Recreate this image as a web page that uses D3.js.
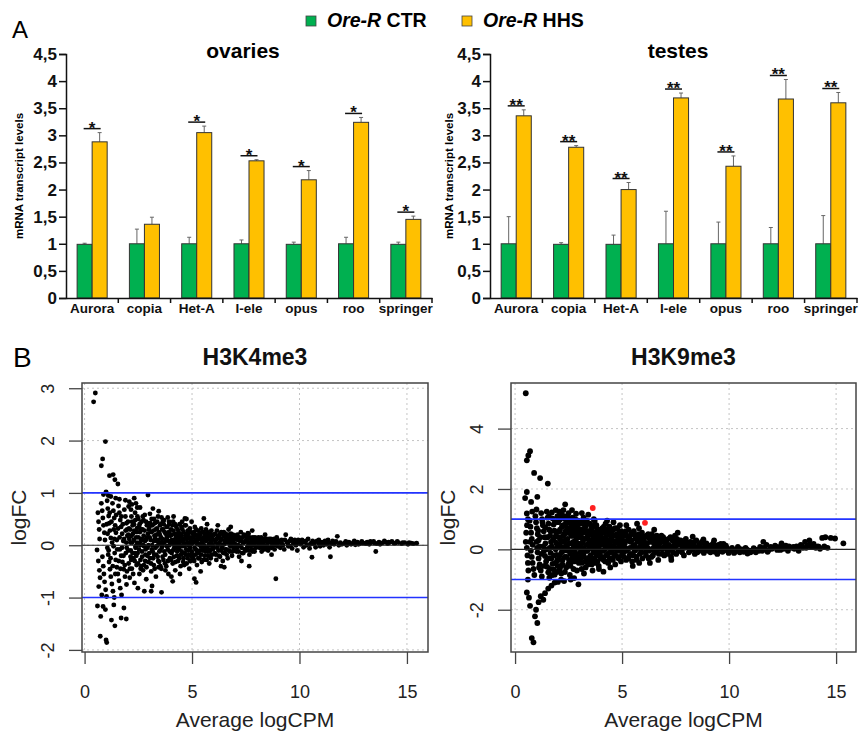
<!DOCTYPE html>
<html>
<head>
<meta charset="utf-8">
<script src="https://cdn.jsdelivr.net/npm/d3@7"></script>
<style>
  body { margin: 0; background: #fff; }
  svg { font-family: "Liberation Sans", Arial, sans-serif; }
</style>
</head>
<body>
<svg width="862" height="732"></svg>
<script>
// ---- panel A data ----
const genes = ['Aurora', 'copia', 'Het-A', 'I-ele', 'opus', 'roo', 'springer'];
const barTicks = [0, 0.5, 1, 1.5, 2, 2.5, 3, 3.5, 4, 4.5];

const ovCtr    = [0.99, 1.00, 1.00, 1.00, 0.99, 1.00, 0.99];
const ovCtrErr = [0.02, 0.27, 0.12, 0.07, 0.04, 0.12, 0.04];
const ovHhs    = [2.88, 1.36, 3.05, 2.53, 2.18, 3.24, 1.45];
const ovHhsErr = [0.17, 0.13, 0.12, 0.02, 0.17, 0.09, 0.06];
const ovSig    = ['*', '', '*', '*', '*', '*', '*'];

const teCtr    = [1.00, 0.99, 0.99, 1.00, 1.00, 1.00, 1.00];
const teCtrErr = [0.50, 0.03, 0.17, 0.60, 0.40, 0.30, 0.52];
const teHhs    = [3.36, 2.78, 2.00, 3.69, 2.43, 3.67, 3.60];
const teHhsErr = [0.11, 0.03, 0.13, 0.09, 0.19, 0.36, 0.19];
const teSig    = ['**', '**', '**', '**', '**', '**', '**'];

// ---- panel B data: [average logCPM, logFC] ----
const k4Points = [
  [0.42,2.74],[0.50,2.91],[0.97,1.98],[0.84,1.65],[0.78,1.52],[1.16,1.33],[1.33,1.35],[1.41,1.25],[1.55,1.17],[2.95,0.96],
  [1.00,1.02],[0.88,0.97],[1.10,0.95],[1.22,0.93],[1.45,0.90],[1.62,0.88],[1.90,0.86],[2.20,0.78],[2.45,0.72],[2.05,0.74],
  [2.31,0.90],[2.08,0.83],[2.39,0.80],
  [0.58,-0.09],[0.66,-0.79],[0.60,-1.16],[0.75,-1.36],[0.73,-1.74],[1.00,-1.81],[1.03,-1.86],[1.25,-1.43],[1.41,-1.54],[1.70,-1.39],
  [1.94,-1.41],[1.83,-1.20],[1.36,-1.14],[0.97,-1.23],[0.86,-1.17],
  [0.62,0.62],[0.65,0.45],[0.68,0.30],[0.70,0.12],[0.64,-0.30],[0.69,-0.48],[0.72,-0.62],[0.80,-0.95],[0.78,0.80],[0.82,0.66],
  [0.85,0.52],[0.88,0.38],[0.92,0.24],[0.95,0.10],[0.83,-0.22],[0.87,-0.40],[0.90,-0.55],[0.93,-0.70],[0.98,-0.85],[1.02,-0.98],
  [1.05,0.85],[1.08,0.70],[1.12,0.56],[1.15,0.42],[1.18,0.28],[1.22,0.14],[1.06,-0.05],[1.10,-0.18],[1.14,-0.32],[1.18,-0.46],
  [1.22,-0.60],[1.27,-0.74],[1.32,-0.88],[1.38,-1.00],
  [1.30,0.80],[1.34,0.66],[1.38,0.52],[1.42,0.38],[1.46,0.24],[1.50,0.10],[1.35,-0.02],[1.40,-0.15],[1.45,-0.28],[1.50,-0.42],
  [1.55,-0.55],[1.60,-0.68],[1.66,-0.82],[1.72,-0.95],
  [1.58,0.75],[1.62,0.62],[1.66,0.48],[1.70,0.35],[1.75,0.22],[1.80,0.08],[1.64,-0.08],[1.70,-0.20],[1.76,-0.32],[1.82,-0.46],
  [1.88,-0.60],[1.95,-0.75],[1.85,0.68],[1.90,0.55],[1.95,0.42],[1.98,0.30],[1.92,-0.15],[1.96,-0.05],[1.99,0.18],
  [2.02,0.45],[2.05,-0.35],[2.08,0.12],[2.10,-0.62],[2.12,0.30],[2.15,-0.10],[2.18,0.55],[2.20,-0.45],[2.22,0.05],[2.25,0.22],
  [2.27,-0.25],[2.30,0.40],[2.32,-0.72],[2.35,0.62],[2.37,-0.05],[2.40,0.15],[2.42,-0.38],[2.45,0.33],[2.47,-0.15],[2.50,0.50],
  [2.52,0.02],[2.55,-0.55],[2.57,0.25],[2.60,-0.28],[2.62,0.08],[2.65,0.45],[2.67,-0.12],[2.70,0.30],[2.72,-0.48],[2.75,0.18],
  [2.77,-0.02],[2.80,0.58],[2.82,-0.30],[2.85,0.10],[2.87,-0.65],[2.90,0.38],[2.92,-0.20],[2.95,0.22],[2.97,0.00],
  [2.04,0.20],[2.14,-0.22],[2.24,0.38],[2.34,-0.15],[2.44,0.05],[2.54,0.35],[2.64,-0.40],[2.74,0.48],[2.84,-0.08],[2.94,0.42],
  [2.16,0.68],[2.48,-0.82],[2.78,-0.88],[2.58,0.72],
  [3.02,0.35],[3.05,-0.25],[3.07,0.10],[3.10,-0.50],[3.12,0.50],[3.15,0.00],[3.17,-0.12],[3.20,0.28],[3.22,-0.38],[3.25,0.18],
  [3.27,0.42],[3.30,-0.05],[3.32,-0.60],[3.35,0.08],[3.37,0.32],[3.40,-0.22],[3.42,0.55],[3.45,0.02],[3.47,-0.32],[3.50,0.20],
  [3.52,-0.10],[3.55,0.40],[3.57,-0.45],[3.60,0.12],[3.62,-0.02],[3.65,0.30],[3.67,-0.28],[3.70,0.48],[3.72,0.05],[3.75,-0.18],
  [3.77,0.22],[3.80,-0.40],[3.82,0.15],[3.85,0.35],[3.87,-0.08],[3.90,-0.55],[3.92,0.25],[3.95,0.00],[3.97,-0.25],
  [3.04,0.60],[3.14,-0.78],[3.24,-0.18],[3.34,0.20],[3.44,-0.42],[3.54,0.05],[3.64,0.45],[3.74,-0.35],[3.84,0.10],[3.94,0.40],
  [3.10,-0.88],[3.58,-0.90],[3.45,0.65],[3.18,0.70],[3.87,0.53],[3.58,0.53],
  [4.02,0.30],[4.05,-0.15],[4.07,0.10],[4.10,-0.35],[4.12,0.45],[4.15,0.02],[4.17,-0.05],[4.20,0.22],[4.22,-0.48],[4.25,0.15],
  [4.27,0.35],[4.30,-0.20],[4.32,0.05],[4.35,-0.30],[4.37,0.25],[4.40,-0.08],[4.42,0.40],[4.45,0.00],[4.47,-0.40],[4.50,0.18],
  [4.52,-0.12],[4.55,0.30],[4.57,0.08],[4.60,-0.25],[4.62,0.12],[4.65,-0.02],[4.67,0.38],[4.70,-0.18],[4.72,0.20],[4.75,-0.35],
  [4.77,0.05],[4.80,0.28],[4.82,-0.10],[4.85,0.15],[4.87,-0.45],[4.90,0.32],[4.92,-0.05],[4.95,0.10],[4.97,-0.22],
  [4.04,-0.60],[4.14,0.55],[4.24,-0.05],[4.34,0.12],[4.44,-0.55],[4.54,0.45],[4.64,-0.38],[4.74,0.50],[4.84,0.00],[4.94,-0.30],
  [4.10,-0.69],[4.67,0.51],[4.98,0.45],
  [5.02,0.22],[5.05,-0.18],[5.08,0.05],[5.10,-0.30],[5.13,0.35],[5.15,0.10],[5.18,-0.08],[5.20,0.18],[5.23,-0.38],[5.25,0.02],
  [5.28,0.28],[5.30,-0.15],[5.33,0.12],[5.35,-0.25],[5.38,0.20],[5.40,-0.02],[5.43,0.32],[5.45,-0.32],[5.48,0.08],[5.50,-0.10],
  [5.53,0.25],[5.55,0.00],[5.58,-0.20],[5.60,0.15],[5.63,-0.05],[5.65,0.30],[5.68,-0.28],[5.70,0.10],[5.73,-0.12],[5.75,0.22],
  [5.78,0.02],[5.80,-0.35],[5.83,0.18],[5.85,-0.08],[5.88,0.05],[5.90,0.28],[5.93,-0.18],[5.95,0.12],[5.98,-0.02],
  [5.11,-0.64],[5.19,-0.71],[5.55,0.51],[5.40,-0.50],[5.70,0.40],
  [6.03,0.20],[6.06,-0.15],[6.10,0.05],[6.13,-0.28],[6.16,0.28],[6.20,0.00],[6.23,-0.10],[6.26,0.15],[6.30,-0.22],[6.33,0.10],
  [6.36,0.25],[6.40,-0.05],[6.43,-0.30],[6.46,0.18],[6.50,0.02],[6.53,-0.15],[6.56,0.22],[6.60,-0.08],[6.63,0.12],[6.66,-0.25],
  [6.70,0.30],[6.73,0.05],[6.76,-0.12],[6.80,0.15],[6.83,-0.02],[6.86,-0.20],[6.90,0.20],[6.93,0.08],[6.96,-0.10],
  [6.20,0.38],[6.50,-0.42],[6.80,0.35],[6.35,-0.40],
  [7.03,0.12],[7.07,-0.12],[7.11,0.20],[7.15,0.00],[7.19,-0.22],[7.23,0.08],[7.27,0.25],[7.31,-0.05],[7.35,0.15],[7.39,-0.15],
  [7.43,0.05],[7.47,0.18],[7.51,-0.10],[7.55,0.10],[7.59,-0.02],[7.63,0.22],[7.67,-0.18],[7.71,0.05],[7.75,0.12],[7.79,-0.08],
  [7.83,0.15],[7.87,0.00],[7.91,-0.12],[7.95,0.08],[7.66,-0.40],[7.60,0.23],[7.30,-0.30],[7.80,0.28],
  [8.04,0.05],[8.09,0.15],[8.14,-0.05],[8.19,0.10],[8.24,-0.12],[8.29,0.02],[8.34,0.12],[8.39,-0.08],[8.44,0.08],[8.49,0.00],
  [8.54,-0.10],[8.59,0.12],[8.64,0.05],[8.69,-0.05],[8.74,0.10],[8.79,0.02],[8.84,-0.08],[8.89,0.08],[8.94,0.15],[8.99,-0.02],
  [8.90,-0.64],[8.40,0.20],[8.70,-0.18],
  [9.05,0.05],[9.11,-0.05],[9.17,0.10],[9.23,0.00],[9.29,-0.08],[9.36,0.20],[9.42,0.06],[9.48,-0.02],[9.54,0.08],[9.60,0.12],
  [9.66,-0.06],[9.72,0.04],[9.78,0.10],[9.84,0.00],[9.90,-0.10],[9.96,0.06],
  [10.05,0.02],[10.12,0.10],[10.19,-0.04],[10.26,0.06],[10.33,0.00],[10.40,0.12],[10.47,-0.06],[10.54,0.04],[10.58,-0.23],[10.61,0.08],
  [10.68,0.02],[10.75,-0.04],[10.82,0.08],[10.89,0.04],[10.96,-0.02],
  [11.05,0.06],[11.12,0.00],[11.19,0.08],[11.26,0.02],[11.33,0.10],[11.40,-0.04],[11.44,-0.22],[11.47,0.04],[11.54,0.08],[11.61,0.02],
  [11.68,0.06],[11.76,0.17],[11.83,0.00],[11.90,0.05],[11.97,0.02],
  [12.10,0.04],[12.20,0.00],[12.30,0.06],[12.40,0.02],[12.50,0.05],[12.60,0.01],[12.70,0.06],[12.80,0.03],[12.90,0.07],
  [13.05,0.04],[13.15,0.06],[13.25,0.02],[13.35,0.05],[13.45,0.07],[13.55,-0.12],[13.60,0.03],[13.70,0.06],[13.80,0.04],[13.90,0.05],
  [14.00,0.06],[14.10,0.03],[14.20,0.05],[14.30,0.07],[14.45,0.04],[14.60,0.05],[14.75,0.03],[14.90,0.05],[15.05,0.02],[15.20,0.04],[15.45,0.04]
];
// the dense core of the H3K4me3 cloud
const k4Core = [
  [1.03,0.40],[1.07,0.22],[1.12,-0.10],[1.17,0.62],[1.21,-0.25],[1.25,0.45],[1.28,0.05],[1.31,-0.40],[1.36,0.30],[1.39,0.12],
  [1.43,-0.55],[1.47,0.58],[1.52,-0.08],[1.56,0.32],[1.59,-0.30],[1.63,0.15],[1.67,-0.45],[1.71,0.55],[1.74,-0.05],[1.78,0.40],
  [1.81,-0.20],[1.84,0.12],[1.87,-0.38],[1.91,0.28],[1.94,0.05],[1.97,-0.50],
  [2.03,-0.10],[2.07,0.32],[2.11,-0.45],[2.13,0.05],[2.17,-0.28],[2.19,0.18],[2.21,0.45],[2.23,-0.15],[2.26,-0.55],[2.29,0.10],
  [2.31,0.28],[2.33,-0.30],[2.36,0.48],[2.38,-0.02],[2.41,-0.20],[2.43,0.25],[2.46,0.55],[2.49,-0.35],[2.51,0.15],[2.53,-0.08],
  [2.56,0.40],[2.59,0.00],[2.61,-0.45],[2.63,0.30],[2.66,0.12],[2.68,-0.22],[2.71,0.55],[2.73,0.00],[2.76,-0.38],[2.79,0.28],
  [2.81,0.08],[2.83,-0.18],[2.86,0.45],[2.88,-0.42],[2.91,0.15],[2.93,-0.05],[2.96,-0.32],[2.99,0.30],
  [3.01,-0.15],[3.03,0.15],[3.06,0.42],[3.09,-0.35],[3.11,0.25],[3.13,-0.08],[3.16,0.38],[3.19,-0.25],[3.21,0.08],[3.23,0.50],
  [3.26,-0.45],[3.28,0.12],[3.31,0.30],[3.33,-0.18],[3.36,-0.02],[3.38,0.45],[3.41,0.10],[3.43,-0.30],[3.46,0.25],[3.48,-0.12],
  [3.51,0.38],[3.53,-0.40],[3.56,0.15],[3.59,-0.05],[3.61,0.30],[3.63,-0.22],[3.66,0.05],[3.68,0.40],[3.71,-0.12],[3.73,0.25],
  [3.76,-0.48],[3.78,0.10],[3.81,0.35],[3.83,-0.02],[3.86,0.20],[3.88,-0.30],[3.91,0.08],[3.93,0.45],[3.96,-0.12],[3.99,0.18],
  [4.01,0.05],[4.03,-0.28],[4.06,0.20],[4.09,0.38],[4.11,-0.10],[4.13,0.28],[4.16,-0.22],[4.19,0.10],[4.21,0.40],[4.23,-0.32],
  [4.26,0.02],[4.28,0.18],[4.31,-0.12],[4.33,0.30],[4.36,-0.05],[4.39,0.15],[4.41,-0.25],[4.43,0.22],[4.46,0.08],[4.49,-0.18],
  [4.51,0.35],[4.53,-0.02],[4.56,0.12],[4.59,-0.32],[4.61,0.25],[4.63,0.02],[4.66,-0.15],[4.69,0.18],[4.71,0.38],[4.73,-0.08],
  [4.76,0.12],[4.79,-0.25],[4.81,0.22],[4.83,0.05],[4.86,-0.18],[4.89,0.15],[4.91,-0.30],[4.93,0.25],[4.96,0.02],[4.99,-0.12],
  [5.01,0.05],[5.04,0.15],[5.06,-0.25],[5.09,0.25],[5.12,-0.05],[5.14,0.20],[5.17,-0.18],[5.19,0.30],[5.22,0.08],[5.24,-0.12],
  [5.27,0.15],[5.29,-0.25],[5.32,0.02],[5.34,0.22],[5.37,-0.10],[5.39,0.12],[5.42,-0.18],[5.44,0.05],[5.47,0.25],[5.49,-0.05],
  [5.52,0.15],[5.54,-0.28],[5.57,0.10],[5.59,0.22],[5.62,-0.12],[5.64,0.08],[5.67,0.18],[5.69,-0.05],[5.72,0.25],[5.74,-0.20],
  [5.77,0.12],[5.79,0.00],[5.82,-0.12],[5.84,0.22],[5.87,-0.25],[5.89,0.10],[5.92,0.02],[5.94,0.20],[5.97,-0.08],
  [6.01,-0.05],[6.05,0.10],[6.08,0.22],[6.11,-0.18],[6.15,0.12],[6.18,-0.05],[6.21,0.18],[6.25,-0.20],[6.28,0.05],[6.31,0.22],
  [6.35,-0.10],[6.38,0.12],[6.41,0.00],[6.45,-0.15],[6.48,0.25],[6.51,0.08],[6.55,-0.08],[6.58,0.15],[6.61,-0.18],[6.65,0.05],
  [6.68,0.20],[6.71,-0.10],[6.75,0.10],[6.78,-0.02],[6.81,0.22],[6.85,0.05],[6.88,-0.12],[6.91,0.12],[6.95,-0.05],[6.98,0.18],
  [7.01,0.02],[7.05,0.18],[7.09,-0.05],[7.13,0.10],[7.17,-0.12],[7.21,0.15],[7.25,-0.02],[7.29,0.10],[7.33,-0.15],[7.37,0.05],
  [7.41,0.20],[7.45,-0.08],[7.49,0.08],[7.53,0.15],[7.57,-0.05],[7.61,0.05],[7.65,-0.10],[7.69,0.15],[7.73,-0.02],[7.77,0.08],
  [7.81,-0.12],[7.85,0.10],[7.89,0.02],[7.93,0.15],[7.97,-0.05],
  [8.02,0.10],[8.07,-0.02],[8.12,0.08],[8.17,0.02],[8.22,0.15],[8.27,-0.05],[8.32,0.05],[8.37,0.10],[8.42,-0.02],[8.47,0.12],
  [8.52,0.05],[8.57,-0.05],[8.62,0.08],[8.67,0.12],[8.72,-0.02],[8.77,0.06],[8.82,0.12],[8.87,0.00],[8.92,0.05],[8.97,0.10],
  [9.08,0.08],[9.20,0.02],[9.32,0.10],[9.45,0.04],[9.57,-0.02],[9.70,0.08],[9.82,0.05],[9.94,0.10],
  [10.10,0.04],[10.30,0.08],[10.50,0.02],[10.70,0.06],[10.90,0.10],[11.10,0.02],[11.30,0.05],[11.50,0.03],[11.70,0.07],[11.90,0.03],
  [12.15,0.07],[12.35,0.03],[12.55,0.08],[12.75,0.02],[12.95,0.04],[13.10,0.03],[13.30,0.07],[13.50,0.04],[13.75,0.02],[13.95,0.08],
  [14.15,0.06],[14.40,0.04],[14.55,0.07],[14.80,0.05],[15.10,0.05],[15.30,0.03]
];

const k9Points = [
  [0.50,5.17],[0.70,3.25],[0.62,3.11],[0.55,2.95],[0.89,2.53],[1.17,2.36],[1.53,2.18],[0.55,1.90],[0.47,1.70],[0.75,1.57],
  [1.04,1.74],[2.34,1.49],[0.55,1.19],[0.80,1.25],[1.00,1.32],
  [2.96,-1.16],[0.70,-1.87],[0.55,-1.43],[0.98,-2.00],[0.93,-2.22],[1.04,-2.44],[0.78,-2.94],[0.86,-3.08],[2.29,-1.05],[4.13,-0.74],
  [1.32,-1.67],[1.40,-1.45],[1.55,-1.30],[1.70,-1.20],[1.85,-1.10],[1.20,-1.55],[1.10,-1.75],[0.65,-1.60],[0.60,-1.00],[2.00,-1.08],
  [2.15,-1.00],[2.60,-1.00],
  [0.50,0.25],[0.55,0.05],[0.58,-0.20],[0.60,-0.45],[0.62,-0.70],[0.52,0.55],[0.56,0.80],[0.60,1.00],
  [0.68,0.95],[0.72,0.75],[0.75,0.55],[0.78,0.35],[0.82,0.15],[0.70,0.25],[0.74,-0.05],[0.78,-0.25],[0.82,-0.45],[0.86,-0.65],[0.90,-0.85],
  [0.95,1.10],[0.98,0.90],[1.02,0.70],[1.06,0.50],[1.10,0.30],[1.00,0.25],[1.14,0.10],[1.05,-0.10],[1.10,-0.30],[1.15,-0.50],
  [1.20,-0.70],[1.25,-0.90],
  [1.22,1.20],[1.26,1.00],[1.30,0.80],[1.34,0.60],[1.38,0.40],[1.42,0.20],[1.35,-0.05],[1.40,-0.22],[1.45,-0.40],[1.50,-0.58],
  [1.55,-0.76],[1.60,-0.94],
  [1.48,1.25],[1.52,1.05],[1.56,0.85],[1.60,0.65],[1.64,0.45],[1.68,0.25],[1.62,0.05],[1.66,-0.12],[1.70,-0.30],[1.75,-0.48],
  [1.80,-0.66],[1.85,-0.84],
  [1.72,1.22],[1.76,1.02],[1.80,0.82],[1.84,0.62],[1.88,0.42],[1.92,0.22],[1.90,0.00],[1.94,-0.18],[1.97,-0.36],[1.99,-0.55],
  [1.95,-0.75],[1.90,1.30],[1.98,1.10],
  [2.02,0.90],[2.05,0.40],[2.08,-0.20],[2.10,0.65],[2.12,0.10],[2.15,-0.55],[2.18,1.15],[2.20,0.25],[2.22,-0.35],[2.25,0.80],
  [2.28,-0.05],[2.30,0.50],[2.33,-0.75],[2.35,1.00],[2.38,0.15],[2.40,-0.25],[2.43,0.70],[2.45,0.35],[2.48,-0.50],[2.50,1.20],
  [2.53,0.00],[2.55,0.55],[2.58,-0.15],[2.60,0.85],[2.63,0.20],[2.65,-0.40],[2.68,1.05],[2.70,0.45],[2.73,-0.65],[2.75,0.10],
  [2.78,0.75],[2.80,-0.10],[2.83,0.30],[2.85,1.18],[2.88,-0.30],[2.90,0.60],[2.93,0.05],[2.95,0.95],[2.98,-0.45],
  [2.06,1.25],[2.26,1.30],[2.46,1.10],[2.66,1.30],[2.86,0.90],[2.16,-0.80],[2.56,-0.85],[2.76,-0.95],[2.36,0.60],[2.96,0.40],
  [3.02,0.50],[3.05,-0.10],[3.08,0.85],[3.10,0.20],[3.13,-0.45],[3.15,0.65],[3.18,0.05],[3.20,1.05],[3.23,-0.25],[3.25,0.35],
  [3.28,0.75],[3.30,-0.60],[3.33,0.15],[3.35,0.95],[3.38,-0.05],[3.40,0.45],[3.43,-0.35],[3.45,0.60],[3.48,0.10],[3.50,0.85],
  [3.53,-0.20],[3.55,0.30],[3.58,-0.50],[3.60,0.70],[3.63,0.00],[3.65,0.40],[3.68,1.00],[3.70,-0.30],[3.73,0.20],[3.75,0.55],
  [3.78,-0.10],[3.80,0.80],[3.83,0.25],[3.85,-0.40],[3.88,0.45],[3.90,0.05],[3.93,0.65],[3.95,-0.15],[3.98,0.30],
  [3.12,1.20],[3.42,1.15],[3.72,0.95],[3.22,-0.80],[3.62,-0.70],[3.92,-0.65],
  [4.02,0.40],[4.05,-0.05],[4.08,0.70],[4.11,0.15],[4.14,-0.35],[4.17,0.55],[4.20,0.00],[4.23,0.85],[4.26,-0.20],[4.29,0.30],
  [4.32,0.60],[4.35,-0.45],[4.38,0.10],[4.41,0.75],[4.44,-0.10],[4.47,0.35],[4.50,-0.30],[4.53,0.50],[4.56,0.05],[4.59,0.65],
  [4.62,-0.15],[4.65,0.25],[4.68,-0.50],[4.71,0.45],[4.74,0.00],[4.77,0.70],[4.80,-0.25],[4.83,0.20],[4.86,0.55],[4.89,-0.05],
  [4.92,0.35],[4.95,-0.40],[4.98,0.15],[4.30,0.95],[4.60,0.90],[4.90,0.80],[4.45,-0.60],
  [5.03,0.30],[5.07,-0.10],[5.11,0.55],[5.15,0.05],[5.19,-0.35],[5.23,0.45],[5.27,0.00],[5.31,0.65],[5.35,-0.20],[5.39,0.25],
  [5.43,0.50],[5.47,-0.40],[5.51,0.10],[5.55,0.60],[5.59,-0.05],[5.63,0.35],[5.67,-0.25],[5.71,0.45],[5.75,0.05],[5.79,0.70],
  [5.83,-0.15],[5.87,0.20],[5.91,0.40],[5.95,-0.30],[5.99,0.10],[5.20,0.80],[5.50,-0.55],[5.80,-0.45],[5.70,0.85],
  [6.04,0.25],[6.09,-0.10],[6.14,0.45],[6.19,0.05],[6.24,-0.30],[6.29,0.35],[6.34,0.00],[6.39,0.50],[6.44,-0.20],[6.49,0.20],
  [6.54,0.40],[6.59,-0.05],[6.64,0.15],[6.69,-0.35],[6.74,0.30],[6.79,0.05],[6.84,0.45],[6.89,-0.15],[6.94,0.25],[6.99,0.10],
  [6.50,0.65],[6.30,-0.45],
  [7.05,0.20],[7.11,-0.05],[7.17,0.35],[7.23,0.00],[7.29,-0.25],[7.35,0.30],[7.41,0.10],[7.47,0.45],[7.53,-0.15],[7.59,0.15],
  [7.65,0.30],[7.71,-0.05],[7.77,0.20],[7.83,0.05],[7.89,-0.20],[7.95,0.25],[7.60,0.55],[7.30,-0.35],
  [8.05,0.10],[8.12,-0.10],[8.19,0.25],[8.26,0.00],[8.33,0.15],[8.40,-0.15],[8.47,0.30],[8.54,0.05],[8.61,-0.05],[8.68,0.20],
  [8.75,0.00],[8.82,-0.12],[8.89,0.15],[8.96,0.05],[8.30,0.42],[8.80,0.33],
  [9.05,0.05],[9.13,-0.10],[9.21,0.15],[9.29,-0.02],[9.37,0.10],[9.45,-0.15],[9.53,0.05],[9.61,0.18],[9.69,-0.08],[9.77,0.02],
  [9.85,0.12],[9.93,-0.05],[9.30,0.30],
  [10.05,-0.05],[10.14,0.05],[10.23,-0.12],[10.32,-0.02],[10.41,0.08],[10.50,-0.10],[10.59,0.00],[10.68,-0.08],[10.77,0.05],[10.86,-0.14],
  [10.95,-0.04],
  [11.05,-0.06],[11.15,0.04],[11.25,-0.10],[11.35,-0.02],[11.45,0.08],[11.55,-0.05],[11.65,0.02],[11.75,0.15],[11.85,-0.02],[11.95,0.08],
  [11.60,0.25],
  [12.05,0.05],[12.15,0.12],[12.25,-0.02],[12.35,0.08],[12.45,0.20],[12.55,0.02],[12.65,0.12],[12.75,-0.05],[12.90,0.05],
  [13.05,0.02],[13.15,0.10],[13.25,-0.05],[13.35,0.15],[13.45,0.05],[13.55,0.25],[13.65,0.12],[13.75,0.30],[13.85,0.08],[13.95,0.18],
  [14.05,0.05],[14.15,0.10],[14.25,0.02],[14.35,0.38],[14.50,0.40],[14.60,0.05],[14.75,0.38],[14.95,0.36],[15.34,0.20]
];
// the dense core of the H3K9me3 cloud
const k9Core = [
  [1.03,0.05],[1.08,0.62],[1.12,-0.60],[1.18,0.40],[1.23,-0.15],[1.28,0.90],[1.32,0.10],[1.37,-0.55],[1.41,0.72],[1.46,0.00],
  [1.51,0.40],[1.54,-0.30],[1.58,1.10],[1.63,-0.65],[1.67,0.60],[1.71,0.10],[1.74,-0.85],[1.78,0.32],[1.82,-0.20],[1.86,0.90],
  [1.89,-0.45],[1.93,0.55],[1.96,0.08],
  [2.01,-0.35],[2.04,0.15],[2.07,0.60],[2.09,-0.65],[2.11,1.00],[2.14,0.30],[2.17,-0.10],[2.19,0.75],[2.21,-0.50],[2.24,0.45],
  [2.27,0.05],[2.29,1.10],[2.32,-0.25],[2.34,0.30],[2.37,0.85],[2.39,-0.60],[2.42,0.10],[2.44,0.55],[2.47,-0.05],[2.49,0.95],
  [2.52,-0.35],[2.54,0.20],[2.57,0.70],[2.59,-0.55],[2.62,0.45],[2.64,0.00],[2.67,0.90],[2.69,-0.25],[2.72,0.25],[2.74,0.60],
  [2.77,-0.40],[2.79,0.15],[2.82,1.00],[2.84,-0.15],[2.87,0.45],[2.89,-0.70],[2.92,0.75],[2.94,0.20],[2.97,-0.25],[2.99,0.55],
  [3.01,0.10],[3.04,0.65],[3.06,-0.30],[3.09,0.40],[3.11,-0.65],[3.14,0.90],[3.16,0.25],[3.19,-0.15],[3.21,0.55],[3.24,0.00],
  [3.26,0.80],[3.29,-0.40],[3.31,0.35],[3.34,-0.05],[3.36,0.60],[3.39,0.15],[3.41,-0.50],[3.44,0.85],[3.46,0.30],[3.49,-0.25],
  [3.51,0.50],[3.54,0.05],[3.56,0.75],[3.59,-0.35],[3.61,0.20],[3.64,0.55],[3.66,-0.10],[3.69,0.35],[3.71,0.80],[3.74,-0.45],
  [3.76,0.10],[3.79,0.45],[3.81,-0.20],[3.84,0.65],[3.86,0.00],[3.89,0.30],[3.91,-0.55],[3.94,0.50],[3.96,0.15],[3.99,-0.30],
  [4.01,0.15],[4.04,0.55],[4.06,-0.25],[4.09,0.30],[4.12,-0.05],[4.15,0.75],[4.18,0.20],[4.21,-0.40],[4.24,0.40],[4.27,0.05],
  [4.30,0.65],[4.33,-0.15],[4.36,0.25],[4.39,0.50],[4.42,-0.30],[4.45,0.15],[4.48,0.60],[4.51,-0.05],[4.54,0.30],[4.57,-0.35],
  [4.60,0.45],[4.63,0.10],[4.66,0.70],[4.69,-0.20],[4.72,0.25],[4.75,0.50],[4.78,-0.05],[4.81,0.35],[4.84,-0.30],[4.87,0.10],
  [4.90,0.45],[4.93,0.00],[4.96,0.60],[4.99,-0.20],
  [5.01,0.10],[5.05,0.45],[5.09,-0.25],[5.13,0.20],[5.17,0.60],[5.21,-0.05],[5.25,0.30],[5.29,-0.30],[5.33,0.40],[5.37,0.05],
  [5.41,-0.15],[5.45,0.30],[5.49,0.55],[5.53,-0.20],[5.57,0.15],[5.61,0.45],[5.65,0.00],[5.69,-0.35],[5.73,0.25],[5.77,0.50],
  [5.81,0.05],[5.85,0.35],[5.89,-0.10],[5.93,0.55],[5.97,0.20],
  [6.02,0.05],[6.07,0.40],[6.12,-0.20],[6.17,0.20],[6.22,0.50],[6.27,-0.05],[6.32,0.25],[6.37,-0.25],[6.42,0.35],[6.47,0.05],
  [6.52,-0.10],[6.57,0.30],[6.62,0.45],[6.67,0.00],[6.72,-0.15],[6.77,0.20],[6.82,0.35],[6.87,0.00],[6.92,0.40],[6.97,-0.20],
  [7.02,0.05],[7.08,0.30],[7.14,-0.15],[7.20,0.15],[7.26,0.40],[7.32,0.05],[7.38,-0.10],[7.44,0.25],[7.50,0.10],[7.56,0.35],
  [7.62,-0.05],[7.68,0.15],[7.74,0.30],[7.80,-0.10],[7.86,0.20],[7.92,0.05],[7.98,0.35],
  [8.03,0.20],[8.10,0.05],[8.17,-0.05],[8.24,0.15],[8.31,0.00],[8.38,0.25],[8.45,0.05],[8.52,-0.10],[8.59,0.15],[8.66,0.05],
  [8.73,0.25],[8.80,-0.05],[8.87,0.10],[8.94,0.20],[9.02,-0.05],[9.10,0.12],[9.18,0.02],[9.26,0.20],[9.34,-0.08],[9.42,0.05],
  [9.50,0.15],[9.58,-0.05],[9.66,0.08],[9.74,0.18],[9.82,-0.02],[9.90,0.05],[9.98,-0.12],
  [10.10,0.00],[10.28,-0.08],[10.46,0.02],[10.64,-0.05],[10.82,0.00],[11.00,-0.10],[11.20,0.00],[11.40,-0.05],[11.60,0.05],[11.80,-0.08],
  [12.00,0.02],[12.20,0.08],[12.40,-0.02],[12.60,0.05],[12.80,0.10],[13.00,0.08],[13.20,0.05],[13.40,0.12],[13.60,0.05],[13.80,0.15],
  [14.00,0.10],[14.20,0.08],[14.45,0.10]
];
const k9Red = [[3.63, 1.37], [6.07, 0.88]];

const svg = d3.select('svg');
const font = '"Liberation Sans", Arial, sans-serif';
const green = '#00b050', orange = '#ffc000';

// panel letters
svg.append('text').attr('x', 12).attr('y', 38).attr('font-size', 24).text('A');
svg.append('text').attr('x', 13).attr('y', 367).attr('font-size', 28).text('B');

// legend
const legend = [
  {x: 306, color: green, label: 'CTR'},
  {x: 462, color: orange, label: 'HHS'}
];
legend.forEach(l => {
  svg.append('rect').attr('x', l.x).attr('y', 16).attr('width', 10).attr('height', 10)
    .attr('fill', l.color).attr('stroke', '#444').attr('stroke-width', 0.8);
  const t = svg.append('text').attr('x', l.x + 21).attr('y', 27)
    .attr('font-size', 19.5).attr('font-weight', 'bold');
  t.append('tspan').attr('font-style', 'italic').text('Ore-R');
  t.append('tspan').text(' ' + l.label);
});

//bar panel
function barPanel(o) {
  const g = svg.append('g');
  const y = d3.scaleLinear().domain([0, 4.5]).range([298, 54]);
  const x = d3.scaleBand().domain(genes).range([o.x0, o.x1]);
  const inner = d3.scaleBand().domain(['ctr', 'hhs']).range([0, x.bandwidth()]).paddingOuter(0.74);

  g.append('text').attr('x', o.titleX).attr('y', 58).attr('text-anchor', 'middle')
    .attr('font-size', 21).attr('font-weight', 'bold').text(o.title);

  g.append('text')
    .attr('transform', `translate(${o.labelX},176) rotate(-90)`)
    .attr('text-anchor', 'middle').attr('font-size', 11.5).attr('font-weight', 'bold')
    .text('mRNA transcript levels');

  const rows = genes.map((gname, i) => ({
    gene: gname,
    bars: [
      {key: 'ctr', v: o.ctr[i], e: o.ctrErr[i], fill: green},
      {key: 'hhs', v: o.hhs[i], e: o.hhsErr[i], fill: orange}
    ],
    sig: o.sig[i]
  }));

  const grp = g.selectAll('.grp').data(rows).join('g')
    .attr('transform', d => `translate(${x(d.gene)},0)`);

  // error bars behind bars
  grp.selectAll('.err').data(d => d.bars).join('g').each(function(b) {
    const cx = inner(b.key) + inner.bandwidth() / 2;
    const s = d3.select(this);
    s.append('line').attr('x1', cx).attr('x2', cx).attr('y1', y(b.v)).attr('y2', y(b.v + b.e))
      .attr('stroke', '#666').attr('stroke-width', 1);
    s.append('line').attr('x1', cx - 2).attr('x2', cx + 2).attr('y1', y(b.v + b.e)).attr('y2', y(b.v + b.e))
      .attr('stroke', '#666').attr('stroke-width', 1);
  });

  grp.selectAll('rect').data(d => d.bars).join('rect')
    .attr('x', b => inner(b.key)).attr('width', inner.bandwidth())
    .attr('y', b => y(b.v)).attr('height', b => y(0) - y(b.v))
    .attr('fill', b => b.fill).attr('stroke', '#333').attr('stroke-width', 1);

  // significance marks
  const sig = grp.filter(d => d.sig !== '');
  const mid = x.bandwidth() / 2;
  sig.append('line')
    .attr('x1', mid - 8.5).attr('x2', mid + 8.5)
    .attr('y1', d => y(d.bars[1].v + d.bars[1].e) - 4)
    .attr('y2', d => y(d.bars[1].v + d.bars[1].e) - 4)
    .attr('stroke', '#111').attr('stroke-width', 1.5);
  sig.append('text').attr('x', mid).attr('y', d => y(d.bars[1].v + d.bars[1].e) + 1)
    .attr('text-anchor', 'middle').attr('font-size', 17).attr('font-weight', 'bold').attr('fill', '#111')
    .text(d => d.sig);

  // y axis
  const ya = g.append('g').attr('transform', `translate(${o.x0},0)`)
    .call(d3.axisLeft(y).tickValues(barTicks).tickSize(7).tickPadding(2)
      .tickFormat(d => String(d).replace('.', ',')));
  ya.select('.domain').attr('stroke', '#111').attr('stroke-width', 1.5);
  ya.selectAll('.tick line').attr('stroke', '#111').attr('stroke-width', 1.5);
  ya.selectAll('text').attr('font-family', font).attr('font-size', 17).attr('font-weight', 'bold').attr('fill', '#111');

  // x axis: baseline, group separators, labels
  const xa = g.append('g').attr('transform', 'translate(0,298)')
    .call(d3.axisBottom(x).tickSize(0).tickPadding(5));
  xa.select('.domain').attr('stroke', '#111').attr('stroke-width', 1.5);
  xa.selectAll('text').attr('font-family', font).attr('font-size', 13.5).attr('font-weight', 'bold').attr('fill', '#111');
  xa.selectAll('.sep').data(genes.slice(1).concat(['end'])).join('line')
    .attr('x1', (d, i) => o.x0 + (i + 1) * x.step()).attr('x2', (d, i) => o.x0 + (i + 1) * x.step())
    .attr('y1', 0).attr('y2', 5).attr('stroke', '#111').attr('stroke-width', 1.5);
}

barPanel({x0: 66, x1: 432, title: 'ovaries', titleX: 243, labelX: 23,
  ctr: ovCtr, ctrErr: ovCtrErr, hhs: ovHhs, hhsErr: ovHhsErr, sig: ovSig});
barPanel({x0: 490, x1: 857, title: 'testes', titleX: 678, labelX: 453,
  ctr: teCtr, ctrErr: teCtrErr, hhs: teHhs, hhsErr: teHhsErr, sig: teSig});

// MA plot panel
function maPanel(o) {
  const g = svg.append('g');
  const x = d3.scaleLinear().domain(o.xDomain).range([o.left, o.right]);
  const y = d3.scaleLinear().domain(o.yDomain).range([652, 383]);

  // dotted grid
  g.selectAll('.vg').data([0, 5, 10, 15]).join('line')
    .attr('x1', d => x(d)).attr('x2', d => x(d)).attr('y1', 383).attr('y2', 652)
    .attr('stroke', '#c4c4c4').attr('stroke-dasharray', '2,3');
  g.selectAll('.hg').data(o.yTicks).join('line')
    .attr('x1', o.left).attr('x2', o.right).attr('y1', d => y(d)).attr('y2', d => y(d))
    .attr('stroke', '#c4c4c4').attr('stroke-dasharray', '2,3');

  g.selectAll('.pt').data(o.points).join('circle')
    .attr('cx', d => x(d[0])).attr('cy', d => y(d[1])).attr('r', o.r).attr('fill', '#000');
  g.selectAll('.red').data(o.red).join('circle')
    .attr('cx', d => x(d[0])).attr('cy', d => y(d[1])).attr('r', o.r).attr('fill', '#ff2020');

  // reference lines
  g.append('line').attr('x1', o.left).attr('x2', o.right).attr('y1', y(0)).attr('y2', y(0))
    .attr('stroke', '#222').attr('stroke-width', 1.2);
  [1, -1].forEach(v => g.append('line').attr('x1', o.left).attr('x2', o.right)
    .attr('y1', y(v)).attr('y2', y(v)).attr('stroke', '#2233ff').attr('stroke-width', 1.6));

  g.append('rect').attr('x', o.left).attr('y', 383).attr('width', o.right - o.left).attr('height', 269)
    .attr('fill', 'none').attr('stroke', '#444').attr('stroke-width', 1.5);

  const xa = g.append('g').attr('transform', 'translate(0,652)')
    .call(d3.axisBottom(x).tickValues([0, 5, 10, 15]).tickSize(12).tickPadding(21));
  xa.select('.domain').remove();
  xa.selectAll('line').attr('stroke', '#444').attr('stroke-width', 1.3);
  xa.selectAll('text').attr('font-family', font).attr('font-size', 18).attr('fill', '#222');

  // R style labels: plain hyphen minus, rotated along the axis
  const ya = g.append('g').attr('transform', `translate(${o.left},0)`)
    .call(d3.axisLeft(y).tickValues(o.yTicks).tickSize(13).tickFormat(d => String(d)));
  ya.select('.domain').remove();
  ya.selectAll('line').attr('stroke', '#444').attr('stroke-width', 1.3);
  ya.selectAll('text').attr('x', 0).attr('dy', '0.35em')
    .attr('transform', 'translate(-34,0) rotate(-90)').attr('text-anchor', 'middle')
    .attr('font-family', font).attr('font-size', 18).attr('fill', '#222');

  const cx = (o.left + o.right) / 2;
  g.append('text').attr('x', cx).attr('y', 365).attr('text-anchor', 'middle')
    .attr('font-size', 23).attr('font-weight', 'bold').attr('fill', '#111').text(o.title);
  g.append('text').attr('x', cx).attr('y', 727).attr('text-anchor', 'middle')
    .attr('font-size', 21).attr('fill', '#222').text('Average logCPM');
  g.append('text').attr('transform', `translate(${o.left - 56},517.5) rotate(-90)`)
    .attr('text-anchor', 'middle').attr('font-size', 21).attr('fill', '#222').text('logFC');
}

maPanel({left: 82, right: 428, xDomain: [-0.12, 15.98], yDomain: [-2.04, 3.10],
  yTicks: [-2, -1, 0, 1, 2, 3], points: k4Points.concat(k4Core), red: [], r: 2.45, title: 'H3K4me3'});
maPanel({left: 511, right: 856, xDomain: [-0.19, 15.93], yDomain: [-3.40, 5.51],
  yTicks: [-2, 0, 2, 4], points: k9Points.concat(k9Core), red: k9Red, r: 2.9, title: 'H3K9me3'});
</script>
</body>
</html>
